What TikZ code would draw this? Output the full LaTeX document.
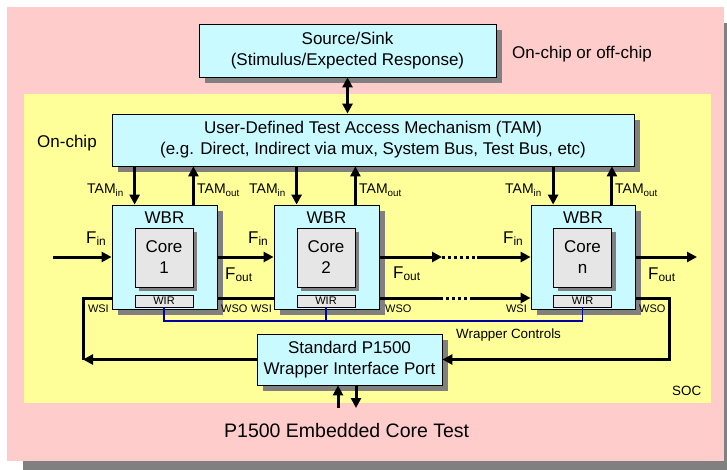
\documentclass[tikz,border=0pt]{standalone}
\usepackage{fontspec}
\setmainfont{Liberation Sans}
\usetikzlibrary{positioning,arrows.meta,calc,shadows}
\definecolor{socpink}{RGB}{255,204,204}
\definecolor{chipyellow}{RGB}{255,255,153}
\definecolor{boxcyan}{RGB}{200,250,255}
\definecolor{coregray}{RGB}{230,230,230}
\definecolor{shadegray}{RGB}{128,128,128}
\definecolor{ctlblue}{RGB}{0,0,160}
\newcommand{\boxfont}{\fontsize{17}{21}\selectfont}
\newcommand{\labfont}{\fontsize{14}{16}\selectfont}
\newcommand{\pinfont}{\fontsize{11}{13}\selectfont}
\newcommand{\ctlfont}{\fontsize{13.4}{16}\selectfont}
\newcommand{\titlefont}{\fontsize{19.5}{23}\selectfont}

\begin{document}
\begin{tikzpicture}[x=1pt,y=-1pt,
  every node/.style={inner sep=0pt,text=black},
  tbox/.style={draw=black,line width=0.8pt,fill=boxcyan,align=center,font=\boxfont,
    drop shadow={shadow xshift=6pt,shadow yshift=-6pt,fill=shadegray,opacity=1}},
  corebox/.style={draw=black,line width=0.8pt,fill=coregray,align=center,font=\boxfont,
    minimum width=58,minimum height=59,
    drop shadow={shadow xshift=4pt,shadow yshift=-4pt,fill=shadegray,opacity=1}},
  wirbox/.style={draw=black,line width=0.8pt,fill=coregray,font=\pinfont,
    minimum width=58,minimum height=12},
  wire/.style={line width=3pt},
  bus/.style={wire,-{Triangle[length=10pt,width=10pt]}},
  dbus/.style={wire,{Triangle[length=10pt,width=10pt]}-{Triangle[length=10pt,width=10pt]}},
  gap/.style={line width=3pt,dash pattern=on 3pt off 3pt},
  ctrl/.style={draw=ctlblue,line width=1.5pt}]
\useasboundingbox (0,0) rectangle (727,470);
\fill[shadegray] (23,23) rectangle (727,470);
\fill[socpink] (7,7) rectangle (724,461);
\fill[chipyellow] (24,94) rectangle (711,403);
\node[font=\boxfont,anchor=base west] (offchip) at (512,59) {On-chip or off-chip};
\node[font=\boxfont,anchor=base west] (onchip) at (37,148) {On-chip};
\node[font=\ctlfont,anchor=base west] (soc) at (672,395) {SOC};
\node[font=\titlefont,anchor=base west] (title) at (224,437) {P1500 Embedded Core Test};

\node[tbox,minimum width=297,minimum height=53] (src) at (347.5,50.5) {Source/Sink\\(Stimulus/Expected Response)};
\node[tbox,minimum width=522,minimum height=52] (tam) at (373,140) {User-Defined Test Access Mechanism (TAM)\\(e.g. Direct, Indirect via mux, System Bus, Test Bus, etc)};
\node[tbox,minimum width=185,minimum height=51] (port) at (349.5,359.5) {Standard P1500\\Wrapper Interface Port};

\node[tbox,minimum width=105,minimum height=104] (wbr1) at (164.5,257) {};
\node[font=\boxfont,anchor=base] (wbr1t) at (164.5,223) {WBR};
\node[corebox] (core1) at (164,257.5) {Core\\1};
\node[wirbox] (wir1) at (164,301) {WIR};

\node[tbox,minimum width=105,minimum height=104] (wbr2) at (326.5,257) {};
\node[font=\boxfont,anchor=base] (wbr2t) at (326.5,223) {WBR};
\node[corebox] (core2) at (326,257.5) {Core\\2};
\node[wirbox] (wir2) at (326,301) {WIR};

\node[tbox,minimum width=104,minimum height=104] (wbrn) at (583,257) {};
\node[font=\boxfont,anchor=base] (wbrnt) at (583,223) {WBR};
\node[corebox] (coren) at (582.5,257.5) {Core\\n};
\node[wirbox] (wirn) at (582.5,301) {WIR};

\draw[dbus] (src.south) -- (src.south |- tam.north);

\draw[bus] (core1.west |- tam.south) -- (core1.west |- wbr1.north);
\draw[bus] (core1.east |- wbr1.north) -- (core1.east |- tam.south);
\draw[bus] (core2.west |- tam.south) -- (core2.west |- wbr2.north);
\draw[bus] (core2.east |- wbr2.north) -- (core2.east |- tam.south);
\draw[bus] (coren.west |- tam.south) -- (coren.west |- wbrn.north);
\draw[bus] (coren.east |- wbrn.north) -- (coren.east |- tam.south);
\node[font=\labfont,anchor=base east] (tin1) at (124,194) {TAM\textsubscript{in}};
\node[font=\labfont,anchor=base west] (tout1) at (197,194) {TAM\textsubscript{out}};
\node[font=\labfont,anchor=base east] (tin2) at (286,194) {TAM\textsubscript{in}};
\node[font=\labfont,anchor=base west] (tout2) at (359,194) {TAM\textsubscript{out}};
\node[font=\labfont,anchor=base east] (tinn) at (542,194) {TAM\textsubscript{in}};
\node[font=\labfont,anchor=base west] (toutn) at (615,194) {TAM\textsubscript{out}};

\coordinate (fsrc) at (53,257);
\coordinate (fdot1) at (442,257);
\coordinate (fdot2) at (477,257);
\coordinate (fsink) at (697,257);
\draw[bus] (fsrc) -- (wbr1.west);
\draw[bus] (wbr1.east) -- (wbr2.west);
\draw[bus] (wbr2.east) -- (fdot1);
\draw[gap] (fdot1) -- (fdot2);
\draw[bus] (fdot2) -- (wbrn.west);
\draw[bus] (wbrn.east) -- (fsink);
\node[font=\boxfont,anchor=base west] (fin1) at (86,243) {F\textsubscript{in}};
\node[font=\boxfont,anchor=base west] (fout1) at (225,279) {F\textsubscript{out}};
\node[font=\boxfont,anchor=base west] (fin2) at (248,243) {F\textsubscript{in}};
\node[font=\boxfont,anchor=base west] (fout2) at (393,278) {F\textsubscript{out}};
\node[font=\boxfont,anchor=base west] (finn) at (503,243) {F\textsubscript{in}};
\node[font=\boxfont,anchor=base west] (foutn) at (648,279) {F\textsubscript{out}};

\coordinate (scan) at (0,298);
\coordinate (sdot1) at (440,298);
\coordinate (sdot2) at (470,298);
\coordinate (lft) at (83,0);
\coordinate (rgt) at (669,0);
\draw[bus] (port.west) -- (port.west -| lft);
\draw[wire] (port.west -| lft) -- (lft |- scan) -- (wbr1.west |- scan);
\draw[wire] (wbr1.east |- scan) -- (wbr2.west |- scan);
\draw[wire] (wbr2.east |- scan) -- (sdot1);
\draw[gap] (sdot1) -- (sdot2);
\draw[bus] (sdot2) -- (wbrn.west |- scan);
\draw[bus] (wbrn.east |- scan) -- (rgt |- scan) -- (rgt |- port.east) -- (port.east);
\node[font=\pinfont,anchor=base east] (wsi1) at (109,312) {WSI};
\node[font=\pinfont,anchor=base west] (wso1) at (221,312) {WSO};
\node[font=\pinfont,anchor=base east] (wsi2) at (272,312) {WSI};
\node[font=\pinfont,anchor=base west] (wso2) at (385,312) {WSO};
\node[font=\pinfont,anchor=base east] (wsin) at (527,312) {WSI};
\node[font=\pinfont,anchor=base west] (wson) at (639,312) {WSO};

\coordinate (ctl) at (0,321);
\draw[ctrl] (wir1.south) -- (wir1.south |- ctl) -- (wirn.south |- ctl) -- (wirn.south);
\draw[ctrl] (wir2.south) -- (wir2.south |- ctl);
\draw[ctrl] ($(port.north)+(-5,0)$) -- ($(port.north)+(-5,0)$ |- ctl);
\node[font=\ctlfont,anchor=base west] (wctl) at (456,338) {Wrapper Controls};

\coordinate (pin) at (338,408);
\coordinate (pout) at (356,408);
\draw[bus] (pin) -- (pin |- port.south);
\draw[bus] (pout |- port.south) -- (pout);
\end{tikzpicture}
\end{document}
